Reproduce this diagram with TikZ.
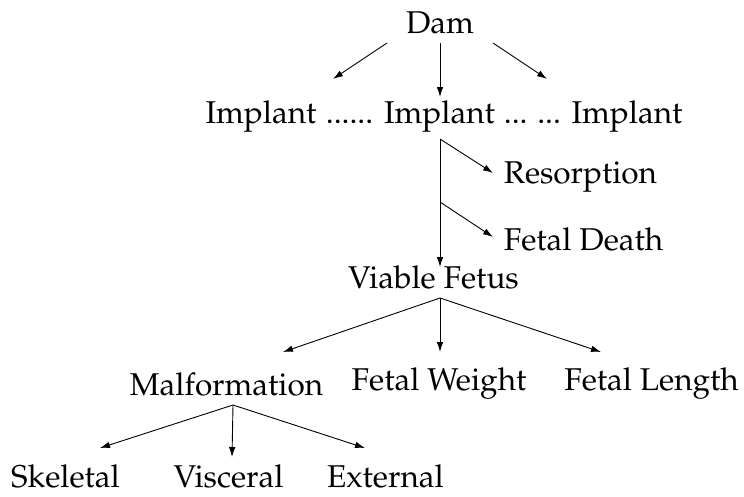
\documentclass[tikz,border=0pt]{standalone}
\usepackage[T1]{fontenc}
\usepackage{mathpazo}
\usetikzlibrary{arrows.meta}
\tikzset{
  lbl/.style={inner sep=0pt, anchor=base, font=\fontsize{31.5}{38}\selectfont},
  arr/.style={line width=0.9pt, -{Latex[length=10pt,width=6.5pt]}},
  ln/.style={line width=0.9pt}
}
\begin{document}
\begin{tikzpicture}[x=1pt,y=-1pt]
\useasboundingbox (0,0) rectangle (744,496);
% text nodes
\node[lbl] (dam) at (440,33) {Dam};
\node[lbl] (i1) at (261,123) {Implant};
\node[lbl] (d1) at (349.5,123) {......};
\node[lbl] (i2) at (439.5,123) {Implant};
\node[lbl] (d2) at (532.5,123) {... ...};
\node[lbl] (i3) at (627,123) {Implant};
\node[lbl] (res) at (580.5,183) {Resorption};
\node[lbl] (fd) at (583.5,250) {Fetal Death};
\node[lbl] (vf) at (433.5,288) {Viable Fetus};
\node[lbl] (mal) at (226.5,395) {Malformation};
\node[lbl] (fw) at (439,390) {Fetal Weight};
\node[lbl] (fl) at (651.5,390) {Fetal Length};
\node[lbl] (sk) at (65.5,487) {Skeletal};
\node[lbl] (vi) at (228.5,487) {Visceral};
\node[lbl] (ex) at (385.5,487) {External};
% connector end points
\coordinate (damL) at (387,43);
\coordinate (damM) at (440,43);
\coordinate (damR) at (493,43);
\coordinate (toI1) at (333,79);
\coordinate (toI2) at (440,97);
\coordinate (toI3) at (547,79);
\coordinate (iTop) at (440,139);
\coordinate (iMid) at (440,202);
\coordinate (toVF) at (440,267);
\coordinate (toRes) at (493,173);
\coordinate (toFD) at (493,237);
\coordinate (vfB) at (440,298);
\coordinate (toMal) at (283,352);
\coordinate (toFW) at (440,352);
\coordinate (toFL) at (601,352);
\coordinate (malB) at (233,405);
\coordinate (toSk) at (100,448);
\coordinate (toVi) at (232,457);
\coordinate (toEx) at (365,448);
% connectors
\draw[arr] (damL) -- (toI1);
\draw[arr] (damM) -- (toI2);
\draw[arr] (damR) -- (toI3);
\draw[arr] (iTop) -- (toVF);
\draw[arr] (iTop) -- (toRes);
\draw[arr] (iMid) -- (toFD);
\draw[arr] (vfB) -- (toMal);
\draw[arr] (vfB) -- (toFW);
\draw[arr] (vfB) -- (toFL);
\draw[arr] (malB) -- (toSk);
\draw[arr] (malB) -- (toVi);
\draw[arr] (malB) -- (toEx);
\end{tikzpicture}
\end{document}
